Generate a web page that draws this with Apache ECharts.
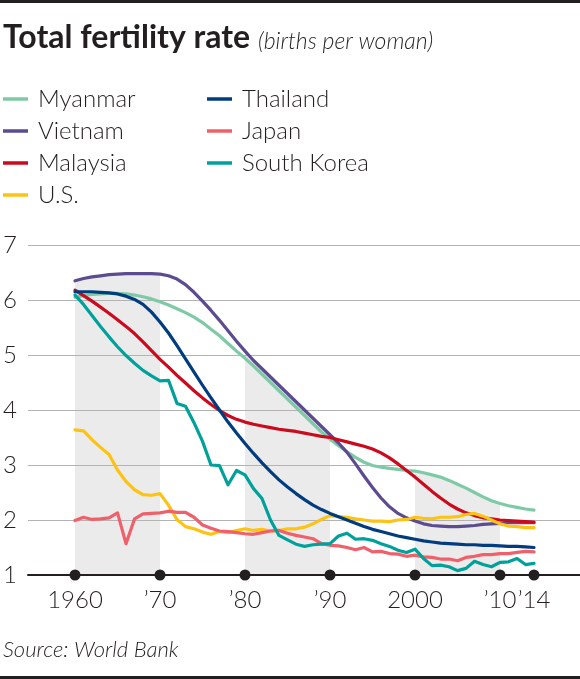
<!DOCTYPE html>
<html><head><meta charset="utf-8">
<script src="https://cdn.jsdelivr.net/npm/echarts@6/dist/echarts.min.js"></script>
<style>html,body{margin:0;padding:0;background:#fff}#c{width:580px;height:679px}</style>
</head><body><div id="c"></div>
<script>
const years = [1960,1961,1962,1963,1964,1965,1966,1967,1968,1969,
  1970,1971,1972,1973,1974,1975,1976,1977,1978,1979,
  1980,1981,1982,1983,1984,1985,1986,1987,1988,1989,
  1990,1991,1992,1993,1994,1995,1996,1997,1998,1999,
  2000,2001,2002,2003,2004,2005,2006,2007,2008,2009,
  2010,2011,2012,2013,2014];

const myanmar = [6.05,6.08,6.10,6.11,6.12,6.12,6.11,6.09,6.06,6.02,
  5.97,5.91,5.84,5.77,5.69,5.59,5.47,5.35,5.21,5.07,
  4.94,4.80,4.65,4.50,4.35,4.20,4.05,3.90,3.75,3.60,
  3.47,3.35,3.24,3.14,3.05,2.99,2.96,2.94,2.92,2.90,
  2.89,2.86,2.82,2.78,2.72,2.65,2.58,2.50,2.42,2.35,
  2.30,2.26,2.23,2.20,2.18];
const vietnam = [6.35,6.39,6.42,6.44,6.46,6.47,6.48,6.48,6.48,6.48,
  6.47,6.44,6.38,6.28,6.14,5.98,5.81,5.63,5.44,5.25,
  5.07,4.90,4.75,4.60,4.45,4.30,4.15,4.00,3.85,3.70,
  3.55,3.40,3.23,3.02,2.80,2.59,2.40,2.24,2.12,2.04,
  1.98,1.93,1.90,1.89,1.88,1.88,1.89,1.90,1.92,1.93,
  1.94,1.95,1.95,1.95,1.95];
const malaysia = [6.18,6.08,5.98,5.87,5.76,5.64,5.52,5.39,5.24,5.08,
  4.92,4.78,4.63,4.49,4.35,4.22,4.10,3.99,3.90,3.83,
  3.78,3.74,3.71,3.68,3.65,3.63,3.61,3.58,3.55,3.52,
  3.50,3.46,3.42,3.38,3.34,3.29,3.22,3.13,3.02,2.90,
  2.78,2.65,2.52,2.40,2.29,2.20,2.13,2.08,2.04,2.02,
  2.00,1.99,1.98,1.97,1.96];
const us = [3.64,3.62,3.46,3.32,3.19,2.91,2.70,2.55,2.46,2.45,
  2.48,2.27,2.01,1.88,1.84,1.78,1.74,1.79,1.77,1.81,
  1.84,1.81,1.83,1.80,1.81,1.84,1.84,1.87,1.93,2.01,
  2.08,2.06,2.05,2.02,2.00,1.98,1.98,1.97,2.00,2.01,
  2.05,2.03,2.02,2.05,2.05,2.06,2.10,2.12,2.07,2.00,
  1.93,1.89,1.88,1.86,1.86];
const thailand = [6.15,6.15,6.15,6.14,6.13,6.11,6.07,6.01,5.92,5.78,
  5.60,5.40,5.17,4.93,4.69,4.45,4.22,4.00,3.78,3.58,
  3.39,3.21,3.04,2.88,2.73,2.60,2.48,2.37,2.27,2.19,
  2.12,2.06,2.00,1.94,1.88,1.83,1.79,1.75,1.71,1.68,
  1.65,1.62,1.60,1.58,1.57,1.56,1.55,1.55,1.54,1.54,
  1.53,1.52,1.52,1.51,1.50];
const japan = [1.99,2.05,2.01,2.02,2.04,2.13,1.57,2.02,2.11,2.12,
  2.13,2.16,2.14,2.14,2.05,1.91,1.85,1.80,1.79,1.77,
  1.75,1.74,1.77,1.80,1.81,1.76,1.72,1.69,1.66,1.57,
  1.54,1.53,1.50,1.46,1.50,1.42,1.43,1.39,1.38,1.34,
  1.36,1.33,1.32,1.29,1.29,1.26,1.32,1.34,1.37,1.37,
  1.39,1.39,1.41,1.43,1.42];
const southKorea = [6.09,5.92,5.72,5.52,5.33,5.15,4.99,4.85,4.72,4.62,
  4.53,4.54,4.12,4.07,3.77,3.43,3.00,2.99,2.64,2.90,
  2.82,2.57,2.39,2.00,1.72,1.64,1.56,1.52,1.55,1.56,
  1.57,1.71,1.76,1.65,1.66,1.63,1.57,1.52,1.45,1.41,
  1.47,1.30,1.17,1.18,1.15,1.08,1.12,1.25,1.19,1.15,
  1.23,1.24,1.30,1.19,1.21];

const tickYears = [1960,1970,1980,1990,2000,2010,2014];
const tickLabels = ['1960','\u201970','\u201980','\u201990','2000','\u201910','\u201914'];
const yTickLabels = ['1','2','3','4','5','6','7'];
const bands = [[1960,1970],[1980,1990],[2000,2010]];

const seriesDefs = [
  {name:'Myanmar', data:myanmar, color:'#7fcaa6'},
  {name:'Vietnam', data:vietnam, color:'#5d4b8f'},
  {name:'Malaysia', data:malaysia, color:'#cc0a1e'},
  {name:'U.S.', data:us, color:'#fdc314'},
  {name:'Thailand', data:thailand, color:'#003c7e'},
  {name:'Japan', data:japan, color:'#f0606a'},
  {name:'South Korea', data:southKorea, color:'#00a19a'}
];

const textColor = '#231f20';
const fam = 'Lato, "Open Sans", sans-serif';

const shadeData = years.map((y,i)=>{
  const inBand = bands.some(b=>y>=b[0]&&y<=b[1]);
  if(!inBand) return [y,null];
  return [y, Math.max(...seriesDefs.map(s=>s.data[i]))];
});

const chart = echarts.init(document.getElementById('c'), null, {renderer:'canvas'});

const lineSeries = seriesDefs.map(s=>({
  name:s.name, type:'line', symbol:'none', color:s.color,
  data: years.map((y,i)=>[y,s.data[i]]),
  lineStyle:{width:3.2,color:s.color,join:'round',cap:'round'},
  itemStyle:{color:s.color},
  z:3
}));

const legendCommon = {
  orient:'vertical', icon:'rect', itemWidth:25, itemHeight:3.5, itemGap:8, padding:0,
  selectedMode:false,
  textStyle:{fontFamily:fam, fontSize:24, fontWeight:300, color:textColor, lineHeight:24, padding:[0,0,0,5]}
};

const option = {
  animation:false,
  backgroundColor:'#fff',
  textStyle:{fontFamily:fam},
  graphic:[
    {type:'rect', shape:{x:0,y:0,width:580,height:3}, style:{fill:textColor}},
    {type:'rect', shape:{x:0,y:676,width:580,height:3}, style:{fill:textColor}},
    {type:'text', x:3, y:38, style:{text:'Total fertility rate', font:'normal 700 32px '+fam, fill:textColor, textAlign:'left', textVerticalAlign:'middle', align:'left', verticalAlign:'middle'}},
    {type:'text', x:258, y:42, style:{text:'(births per woman)', font:'italic 300 23px '+fam, fill:textColor, textAlign:'left', textVerticalAlign:'middle', align:'left', verticalAlign:'middle'}},
    {type:'text', x:3, y:650, style:{text:'Source: World Bank', font:'italic 300 22px '+fam, fill:textColor, textAlign:'left', textVerticalAlign:'middle', align:'left', verticalAlign:'middle'}}
  ],
  legend:[
    Object.assign({left:3, top:87, data:['Myanmar','Vietnam','Malaysia','U.S.']}, legendCommon),
    Object.assign({left:207, top:87, data:['Thailand','Japan','South Korea']}, legendCommon)
  ],
  grid:{left:28, right:0, top:245, bottom:104, containLabel:false},
  xAxis:{
    type:'value', min:1954.47, max:2019.41,
    axisLine:{show:true, onZero:false, lineStyle:{color:textColor, width:2}},
    axisTick:{show:false}, axisLabel:{show:false}, splitLine:{show:false}
  },
  yAxis:{
    type:'value', min:1, max:7, interval:1,
    axisLine:{show:false}, axisTick:{show:false},
    axisLabel:{align:'left', margin:25, fontSize:24, fontWeight:300, color:textColor, fontFamily:fam,
      formatter:(v)=>yTickLabels[Math.round(v)-1]},
    splitLine:{lineStyle:{color:'#b3b3b3', width:1}}
  },
  series:[
    {type:'line', name:'shade', symbol:'none', data:shadeData, connectNulls:false,
     lineStyle:{width:0, opacity:0}, areaStyle:{color:'#ebebeb', opacity:1, origin:'start'}, z:-1, silent:true},
    ...lineSeries,
    {type:'scatter', name:'ticks', data:tickYears.map(y=>[y,1]), symbolSize:11, clip:false,
     itemStyle:{color:textColor, opacity:1}, z:5, silent:true,
     label:{show:true, position:'bottom', distance:8, fontSize:24, fontWeight:300, color:textColor, fontFamily:fam,
       formatter:(p)=>tickLabels[p.dataIndex]}}
  ]
};
chart.setOption(option);
</script></body></html>
